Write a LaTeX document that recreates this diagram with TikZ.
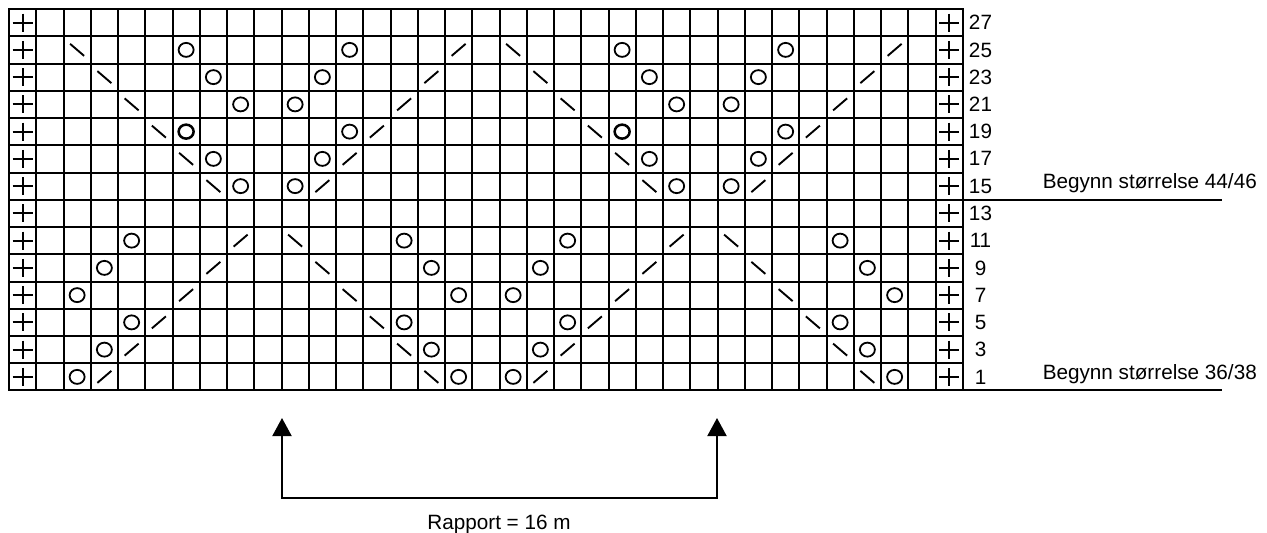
\documentclass[tikz,border=0pt]{standalone}
\usepackage{fontspec}
\setmainfont{Liberation Sans}
\usetikzlibrary{arrows.meta}
\newcommand\stxy[2]{\pgfmathsetmacro\xx{9+27.25*(#1-0.5)}\pgfmathsetmacro\yy{9+27.25*((27-#2)/2+0.5)}}
\begin{document}
\begin{tikzpicture}[x=1pt,y=-1pt,
  gridline/.style={line width=1.5pt},
  border/.style={line width=2pt},
  knit/.style={line width=2.2pt},
  yo/.style={line width=1.8pt},
  yobold/.style={line width=2.5pt},
  dec/.style={line width=1.9pt},
  lbl/.style={font=\fontsize{20.7}{24}\selectfont, inner sep=0pt},
  marker/.style={line width=2pt},
  rapport/.style={line width=2pt, {Triangle[width=19pt,length=18pt]}-{Triangle[width=19pt,length=18pt]}}
]
\useasboundingbox (0,0) rectangle (1267,533);
% grid
\foreach \i in {1,...,34} {\pgfmathsetmacro\gx{round(9+27.25*\i)}\draw[gridline] (\gx,9) -- (\gx,390);}
\foreach \j in {1,...,13} {\pgfmathsetmacro\gy{round(9+27.25*\j)}\draw[gridline] (9,\gy) -- (963,\gy);}
\draw[border] (9,9) rectangle (963,390);
% plus signs (edge stitches)
\foreach \n in {1,3,5,7,9,11,13,15,17,19,21,23,25,27} {
  \stxy{1}{\n}
  \draw[knit] (\xx-10,\yy) -- (\xx+10,\yy);
  \draw[knit] (\xx,\yy-9) -- (\xx,\yy+9);
  \stxy{35}{\n}
  \draw[knit] (\xx-10,\yy) -- (\xx+10,\yy);
  \draw[knit] (\xx,\yy-9) -- (\xx,\yy+9);
  \node[lbl] (row\n) at (980.5,\yy) {\n};
}
% yarn overs
\foreach \c/\n in
  {7/25,13/25,23/25,29/25, 8/23,12/23,24/23,28/23, 9/21,11/21,25/21,27/21,
   13/19,29/19, 8/17,12/17,24/17,28/17, 9/15,11/15,25/15,27/15,
   5/11,15/11,21/11,31/11, 4/9,16/9,20/9,32/9, 3/7,17/7,19/7,33/7,
   5/5,15/5,21/5,31/5, 4/3,16/3,20/3,32/3, 3/1,17/1,19/1,33/1}
  {\stxy{\c}{\n}\draw[yo] (\xx,\yy) ellipse [x radius=7.5pt, y radius=7pt];}
\foreach \c/\n in {7/19,23/19}
  {\stxy{\c}{\n}\draw[yobold] (\xx,\yy) ellipse [x radius=7.5pt, y radius=7pt];}
% backslash decreases
\foreach \c/\n in
  {3/25,19/25, 4/23,20/23, 5/21,21/21, 6/19,22/19, 7/17,23/17, 8/15,24/15,
   11/11,27/11, 12/9,28/9, 13/7,29/7, 14/5,30/5, 15/3,31/3, 16/1,32/1}
  {\stxy{\c}{\n}\draw[dec] (\xx-7,\yy-6) -- (\xx+7,\yy+6);}
% slash decreases
\foreach \c/\n in
  {17/25,33/25, 16/23,32/23, 15/21,31/21, 14/19,30/19, 13/17,29/17, 12/15,28/15,
   9/11,25/11, 8/9,24/9, 7/7,23/7, 6/5,22/5, 5/3,21/3, 4/1,20/1}
  {\stxy{\c}{\n}\draw[dec] (\xx-7,\yy+6) -- (\xx+7,\yy-6);}
% size markers
\coordinate (m44s) at (963,200);
\coordinate (m44e) at (1222,200);
\coordinate (m36s) at (963,390);
\coordinate (m36e) at (1222,390);
\draw[marker] (m44s) -- (m44e);
\draw[marker] (m36s) -- (m36e);
\node[lbl, anchor=base east] (b44) at (1257,188) {Begynn størrelse 44/46};
\node[lbl, anchor=base east] (b36) at (1257,379) {Begynn størrelse 36/38};
% repeat bracket
\coordinate (aL) at (282,418);
\coordinate (bL) at (282,498);
\coordinate (bR) at (717,498);
\coordinate (aR) at (717,418);
\draw[rapport] (aL) -- (bL) -- (bR) -- (aR);
\node[lbl, anchor=base] (rap) at (499,529) {Rapport = 16 m};
\end{tikzpicture}
\end{document}
